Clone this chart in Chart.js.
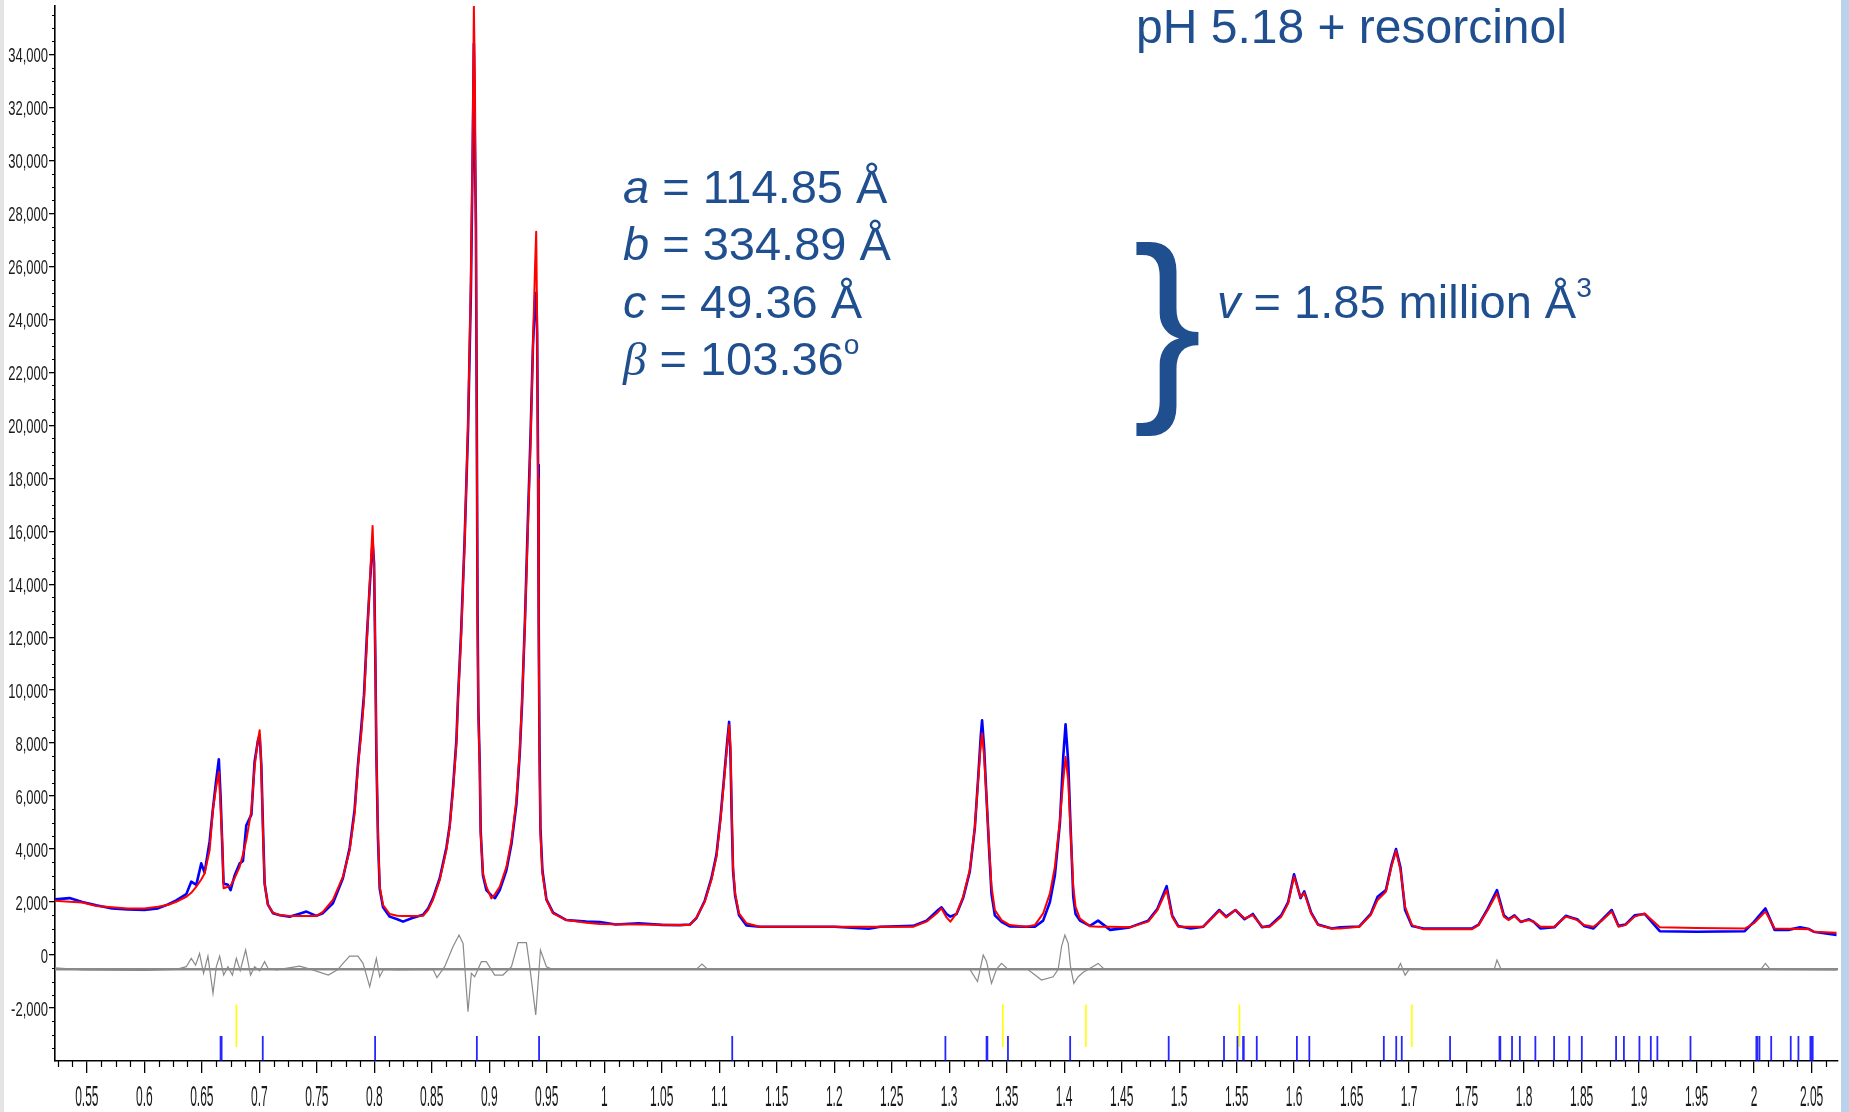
<!DOCTYPE html>
<html>
<head>
<meta charset="utf-8">
<script src="https://cdn.jsdelivr.net/npm/chart.js@4.4.1/dist/chart.umd.min.js"></script>
<style>
  body { margin: 0; background: #fff; }
  #wrap { position: relative; width: 1849px; height: 1112px; overflow: hidden; }
  #chart { display: block; }
  .note { position: absolute; color: #1f4f8f; font-family: "Liberation Sans", Arial, sans-serif; font-size: 47px; line-height: 1; white-space: nowrap; }
  .note sup { font-size: 0.6em; vertical-align: 0.75em; line-height: 0; }
  .greek { font-family: "Liberation Serif", "DejaVu Serif", serif; font-style: italic; }
  .brace { position: absolute; color: #1f4f8f; font-family: "Liberation Sans", Arial, sans-serif; font-size: 207px; line-height: 1; }
  .edge-left { position: absolute; left: 0; top: 0; width: 4px; height: 1112px; background: #e4e4e4; }
  .edge-right { position: absolute; right: 0; top: 0; width: 8px; height: 1112px; background: #bcd2ea; }
</style>
</head>
<body>
<div id="wrap">
  <canvas id="chart" width="1849" height="1112"></canvas>
  <div class="edge-left"></div>
  <div class="edge-right"></div>
  <div class="note" style="left:1136px; top:3px; font-size:48px;">pH 5.18 + resorcinol</div>
  <div class="note" style="left:623px; top:163px;"><i>a</i> = 114.85 Å</div>
  <div class="note" style="left:623px; top:220px;"><i>b</i> = 334.89 Å</div>
  <div class="note" style="left:623px; top:278px;"><i>c</i> = 49.36 Å</div>
  <div class="note" style="left:623px; top:335px;"><span class="greek">β</span> = 103.36<sup>o</sup></div>
  <div class="brace" style="left:1133px; top:218px;">}</div>
  <div class="note" style="left:1217px; top:278px;"><i>v</i> = 1.85 million Å<sup>3</sup></div>
</div>
<script>
// axis ranges
var xMin = 0.5223, xMax = 2.073;
var yMin = -4000, yMax = 35826;

var xTickLabels = ['0.55', '0.6', '0.65', '0.7', '0.75', '0.8', '0.85', '0.9', '0.95', '1',
  '1.05', '1.1', '1.15', '1.2', '1.25', '1.3', '1.35', '1.4', '1.45', '1.5',
  '1.55', '1.6', '1.65', '1.7', '1.75', '1.8', '1.85', '1.9', '1.95', '2', '2.05'];
var yTickLabels = ['-2,000', '0', '2,000', '4,000', '6,000', '8,000', '10,000', '12,000', '14,000', '16,000',
  '18,000', '20,000', '22,000', '24,000', '26,000', '28,000', '30,000', '32,000', '34,000'];

// pattern: position, calculated (red), observed (blue)
var dSpacing = [
  0.5223, 0.5350, 0.5460, 0.5582, 0.5720, 0.5857, 0.6000, 0.6118, 0.6210, 0.6278,
  0.6365, 0.6408, 0.6452, 0.6495, 0.6524, 0.6568, 0.6596, 0.6625, 0.6648, 0.6663,
  0.6678, 0.6689, 0.6727, 0.6750, 0.6785, 0.6829, 0.6858, 0.6887, 0.6931, 0.6959,
  0.6988, 0.7003, 0.7017, 0.7032, 0.7046, 0.7075, 0.7118, 0.7180, 0.7263, 0.7350,
  0.7410, 0.7495, 0.7553, 0.7640, 0.7727, 0.7786, 0.7829, 0.7858, 0.7887, 0.7910,
  0.7935, 0.7960, 0.7985, 0.7998, 0.8010, 0.8018, 0.8032, 0.8047, 0.8076, 0.8134,
  0.8200, 0.8250, 0.8330, 0.8424, 0.8467, 0.8510, 0.8569, 0.8627, 0.8656, 0.8685,
  0.8714, 0.8728, 0.8755, 0.8785, 0.8815, 0.8840, 0.8855, 0.8866, 0.8875, 0.8884,
  0.8892, 0.8898, 0.8905, 0.8917, 0.8925, 0.8945, 0.8975, 0.9018, 0.9050, 0.9091,
  0.9149, 0.9193, 0.9236, 0.9265, 0.9285, 0.9310, 0.9335, 0.9360, 0.9380, 0.9398,
  0.9408, 0.9416, 0.9424, 0.9430, 0.9437, 0.9445, 0.9462, 0.9497, 0.9555, 0.9671,
  0.9845, 0.9961, 1.0100, 1.0300, 1.0500, 1.0657, 1.0744, 1.0802, 1.0874, 1.0932,
  1.0976, 1.1011, 1.1042, 1.1068, 1.1086, 1.1098, 1.1109, 1.1120, 1.1138, 1.1172,
  1.1237, 1.1353, 1.1500, 1.2000, 1.2300, 1.2400, 1.2686, 1.2803, 1.2890, 1.2933,
  1.2977, 1.3010, 1.3064, 1.3121, 1.3179, 1.3223, 1.3252, 1.3275, 1.3286, 1.3304,
  1.3324, 1.3347, 1.3368, 1.3397, 1.3455, 1.3527, 1.3673, 1.3745, 1.3817, 1.3876,
  1.3919, 1.3963, 1.3992, 1.4012, 1.4035, 1.4055, 1.4079, 1.4099, 1.4137, 1.4224,
  1.4295, 1.4400, 1.4570, 1.4731, 1.4811, 1.4891, 1.4939, 1.4991, 1.5100, 1.5210,
  1.5349, 1.5409, 1.5489, 1.5569, 1.5641, 1.5721, 1.5788, 1.5888, 1.5948, 1.5999,
  1.6056, 1.6088, 1.6148, 1.6208, 1.6327, 1.6400, 1.6567, 1.6666, 1.6726, 1.6798,
  1.6846, 1.6886, 1.6925, 1.6965, 1.7025, 1.7125, 1.7544, 1.7604, 1.7684, 1.7764,
  1.7824, 1.7864, 1.7916, 1.7971, 1.8043, 1.8083, 1.8143, 1.8263, 1.8362, 1.8422,
  1.8462, 1.8522, 1.8602, 1.8682, 1.8762, 1.8821, 1.8881, 1.8961, 1.9049, 1.9180,
  1.9500, 1.9919, 1.9999, 2.0099, 2.0179, 2.0300, 2.0400, 2.0478, 2.0518, 2.0717
];
var yCalc = [
  2050, 2010, 1980, 1850, 1800, 1760, 1760, 1820, 1900, 2010,
  2200, 2350, 2580, 2850, 3080, 3960, 5470, 6350, 6920, 5600,
  4220, 2520, 2580, 2620, 2900, 3330, 3800, 4340, 5470, 7110,
  8110, 8490, 7110, 4590, 2700, 1890, 1600, 1500, 1470, 1470,
  1470, 1470, 1630, 2080, 2960, 3960, 5350, 7110, 8370, 9620,
  11800, 14000, 16200, 14500, 11000, 7740, 4590, 2580, 1890, 1550,
  1480, 1470, 1470, 1480, 1700, 2080, 2830, 3960, 4840, 6230,
  7990, 9620, 12000, 15500, 20000, 25500, 30500, 35800, 33000, 27000,
  19000, 12500, 9000, 7110, 4590, 3080, 2580, 2140, 2300, 2580,
  3330, 4340, 5850, 7740, 9620, 12500, 16000, 19500, 23000, 26000,
  27300, 24000, 18000, 12000, 7500, 4590, 3080, 2080, 1570, 1320,
  1220, 1170, 1160, 1150, 1140, 1130, 1130, 1420, 2010, 2830,
  3710, 5100, 6600, 7860, 8680, 7860, 5350, 3330, 2330, 1570,
  1200, 1070, 1070, 1070, 1070, 1070, 1070, 1260, 1570, 1760,
  1420, 1260, 1570, 2200, 3210, 4840, 6600, 8000, 8370, 7480,
  5970, 4090, 2580, 1700, 1320, 1130, 1070, 1130, 1570, 2330,
  3330, 5100, 6600, 7480, 6600, 4720, 2580, 1820, 1380, 1090,
  1070, 1070, 1045, 1260, 1700, 2450, 1450, 1070, 1070, 1070,
  1670, 1420, 1700, 1380, 1510, 1070, 1070, 1450, 1950, 2960,
  2180, 2350, 1570, 1130, 1000, 1000, 1070, 1510, 2080, 2390,
  3330, 3940, 3210, 1820, 1130, 970, 970, 1130, 1700, 2330,
  1450, 1320, 1470, 1260, 1320, 1260, 1070, 1070, 1450, 1380,
  1320, 1130, 1070, 1320, 1640, 1070, 1130, 1450, 1570, 1045,
  1020, 1000, 1200, 1640, 1000, 990, 985, 970, 880, 840
];
var yObs = [
  2100, 2150, 2000, 1880, 1760, 1720, 1700, 1760, 1920, 2060,
  2300, 2770, 2650, 3460, 3110, 4300, 5500, 6600, 7390, 6000,
  4100, 2700, 2650, 2450, 3000, 3460, 3550, 4900, 5300, 7300,
  8100, 8300, 7200, 4800, 2700, 1900, 1580, 1500, 1450, 1560,
  1640, 1480, 1580, 1950, 2900, 4050, 5500, 7200, 8600, 9800,
  12000, 13900, 15600, 14800, 10800, 7600, 4400, 2500, 1800, 1450,
  1350, 1260, 1400, 1520, 1750, 2150, 2900, 4050, 4900, 6350,
  8100, 9700, 12200, 15600, 19800, 25000, 30000, 34400, 30500, 27500,
  19500, 13000, 9300, 7200, 4700, 3000, 2450, 2250, 2150, 2450,
  3200, 4200, 5700, 7600, 9500, 12600, 16300, 19800, 23000, 24700,
  25000, 23500, 18500, 12500, 7800, 4800, 3200, 2100, 1600, 1320,
  1260, 1250, 1150, 1200, 1140, 1130, 1150, 1400, 2050, 2900,
  3800, 5200, 6700, 8000, 8800, 7500, 5100, 3200, 2250, 1500,
  1120, 1070, 1070, 1070, 990, 1070, 1100, 1300, 1650, 1800,
  1550, 1450, 1550, 2150, 3150, 4800, 6700, 8300, 8860, 7800,
  6000, 4000, 2300, 1500, 1250, 1080, 1070, 1070, 1300, 2000,
  3000, 5000, 7500, 8710, 7300, 4900, 2200, 1550, 1300, 1100,
  1300, 950, 1045, 1300, 1750, 2600, 1500, 1100, 1000, 1070,
  1700, 1450, 1700, 1350, 1550, 1050, 1100, 1500, 2000, 3050,
  2150, 2400, 1600, 1150, 1000, 1050, 1080, 1550, 2200, 2450,
  3400, 4000, 3300, 1700, 1100, 1000, 1000, 1150, 1750, 2450,
  1500, 1350, 1500, 1250, 1350, 1250, 1000, 1050, 1480, 1400,
  1350, 1100, 1000, 1350, 1700, 1100, 1150, 1500, 1550, 900,
  880, 900, 1250, 1760, 950, 950, 1050, 980, 880, 760
];

// difference curve, drawn about its offset line
var diffBaseline = -540;
var diffX = [
  0.5223, 0.5350, 0.5460, 0.6000, 0.6280, 0.6365, 0.6408, 0.6446, 0.6480, 0.6515,
  0.6553, 0.6597, 0.6626, 0.6655, 0.6690, 0.6727, 0.6766, 0.6800, 0.6834, 0.6881,
  0.6924, 0.6959, 0.7003, 0.7046, 0.7075, 0.7150, 0.7350, 0.7450, 0.7600, 0.7680,
  0.7728, 0.7786, 0.7858, 0.7902, 0.7960, 0.8018, 0.8047, 0.8080, 0.8200, 0.8510,
  0.8545, 0.8612, 0.8684, 0.8737, 0.8772, 0.8815, 0.8844, 0.8873, 0.8931, 0.8974,
  0.9047, 0.9119, 0.9193, 0.9250, 0.9323, 0.9352, 0.9404, 0.9445, 0.9497, 0.9550,
  1.0800, 1.0850, 1.0900, 1.3180, 1.3246, 1.3296, 1.3324, 1.3368, 1.3411, 1.3455,
  1.3500, 1.3680, 1.3730, 1.3803, 1.3904, 1.3948, 1.3977, 1.4006, 1.4035, 1.4055,
  1.4084, 1.4122, 1.4166, 1.4296, 1.4350, 1.6900, 1.6925, 1.6965, 1.7000, 1.7740,
  1.7764, 1.7800, 2.0060, 2.0099, 2.0140, 2.0717
];
var diffY = [
  -480, -520, -560, -580, -540, -440, -125, -380, 60, -690,
  -40, -1445, -440, -40, -755, -440, -755, -125, -590, 190,
  -755, -440, -600, -250, -500, -560, -420, -540, -755, -560,
  -315, -40, -40, -315, -1195, -125, -820, -540, -560, -540,
  -850, -440, 315, 755, 440, -2140, -690, -820, -250, -250,
  -755, -755, -440, 465, 465, -440, -2265, 190, -440, -540,
  -540, -340, -540, -540, -1000, 0, -230, -1070, -540, -315,
  -500, -540, -700, -945, -820, -540, 315, 755, 440, -440,
  -1070, -820, -650, -315, -540, -540, -315, -760, -540, -540,
  -190, -540, -540, -315, -540, -560
];

// reflection markers
var blueTicks = [0.6663, 0.6672, 0.7030, 0.8007, 0.8892, 0.9433, 1.1113, 1.2967, 1.3325, 1.3332,
  1.3511, 1.4052, 1.4909, 1.5390, 1.5507, 1.5556, 1.5562, 1.5675, 1.6024, 1.6132,
  1.6780, 1.6888, 1.6936, 1.7356, 1.7786, 1.7793, 1.7895, 1.7963, 1.8098, 1.8261,
  1.8393, 1.8502, 1.8800, 1.8868, 1.9003, 1.9102, 1.9159, 1.9447, 2.0020, 2.0028,
  2.0047, 2.0149, 2.0319, 2.0386, 2.0490, 2.0500, 2.0510];
var yellowTicks = [0.6800, 1.3466, 1.4189, 1.5525, 1.7024];
var blueTickSpan = [-4000, -3060];
var yellowTickSpan = [-1870, -3470];

var xMinorStep = 0.0125, yMinorStep = 500;

function toPoints(xs, ys) {
  return xs.map(function (v, i) { return { x: v, y: ys[i] }; });
}
function tickSegments(positions, span) {
  var pts = [];
  positions.forEach(function (p) {
    pts.push({ x: p, y: span[0] }, { x: p, y: span[1] }, { x: p, y: null });
  });
  return pts;
}

// minor ticks and condensed tick labels
var axisExtras = {
  id: 'axisExtras',
  afterDraw: function (chart) {
    var ctx = chart.ctx, area = chart.chartArea;
    var xs = chart.scales.x, ys = chart.scales.y;
    ctx.save();
    ctx.strokeStyle = '#000';
    ctx.lineWidth = 1.2;
    ctx.beginPath();
    for (var i = 0; ; i++) {
      var v = 0.525 + i * xMinorStep;
      if (v > xMax) break;
      if (Math.abs(v / 0.05 - Math.round(v / 0.05)) < 1e-6) continue;
      var px = Math.round(xs.getPixelForValue(v)) + 0.5;
      ctx.moveTo(px, area.bottom);
      ctx.lineTo(px, area.bottom + 6);
    }
    for (var j = 0; ; j++) {
      var w = -3500 + j * yMinorStep;
      if (w > yMax) break;
      if (w % 2000 === 0) continue;
      var py = Math.round(ys.getPixelForValue(w)) + 0.5;
      ctx.moveTo(area.left, py);
      ctx.lineTo(area.left - 3, py);
    }
    ctx.stroke();

    ctx.fillStyle = '#1a1a1a';
    ctx.textBaseline = 'alphabetic';
    ctx.textAlign = 'right';
    ctx.font = '21px "Liberation Sans", Arial, sans-serif';
    yTickLabels.forEach(function (lab) {
      var py = ys.getPixelForValue(Number(lab.replace(/,/g, '')));
      ctx.save();
      ctx.translate(area.left - 7, py + 7.5);
      ctx.scale(0.62, 1);
      ctx.fillText(lab, 0, 0);
      ctx.restore();
    });
    ctx.textAlign = 'center';
    ctx.font = '30px "Liberation Sans", Arial, sans-serif';
    xTickLabels.forEach(function (lab) {
      var px = xs.getPixelForValue(parseFloat(lab));
      ctx.save();
      ctx.translate(px, area.bottom + 45);
      ctx.scale(0.4, 1);
      ctx.fillText(lab, 0, 0);
      ctx.restore();
    });
    ctx.restore();
  }
};

new Chart(document.getElementById('chart'), {
  type: 'scatter',
  data: {
    datasets: [{
      label: 'Calculated',
      data: toPoints(dSpacing, yCalc),
      showLine: true,
      borderColor: '#ff0000',
      borderWidth: 2,
      borderJoinStyle: 'round',
      pointRadius: 0
    }, {
      label: 'Observed',
      data: toPoints(dSpacing, yObs),
      showLine: true,
      borderColor: '#0000ff',
      borderWidth: 2.6,
      borderJoinStyle: 'round',
      pointRadius: 0
    }, {
      label: 'Difference',
      data: toPoints(diffX, diffY),
      showLine: true,
      borderColor: '#8a8a8a',
      borderWidth: 1.2,
      pointRadius: 0
    }, {
      label: 'Difference zero',
      data: [{ x: xMin, y: diffBaseline }, { x: xMax, y: diffBaseline }],
      showLine: true,
      borderColor: '#8a8a8a',
      borderWidth: 2.5,
      pointRadius: 0
    }, {
      label: 'Reflections',
      data: tickSegments(blueTicks, blueTickSpan),
      showLine: true,
      spanGaps: false,
      borderColor: 'rgba(0,0,255,0.85)',
      borderWidth: 1.8,
      pointRadius: 0
    }, {
      label: 'Second phase',
      data: tickSegments(yellowTicks, yellowTickSpan),
      showLine: true,
      spanGaps: false,
      borderColor: '#ffff00',
      borderWidth: 1.6,
      pointRadius: 0
    }]
  },
  options: {
    responsive: false,
    animation: false,
    events: [],
    layout: { padding: { top: 6, right: 11, left: 0, bottom: 0 } },
    plugins: { legend: { display: false }, tooltip: { enabled: false } },
    scales: {
      x: {
        type: 'linear',
        min: xMin,
        max: xMax,
        afterFit: function (s) { s.height = 51; },
        afterBuildTicks: function (s) {
          s.ticks = xTickLabels.map(function (l) { return { value: parseFloat(l) }; });
        },
        ticks: { display: false },
        grid: { display: true, drawOnChartArea: false, drawTicks: true, tickLength: 12, color: '#000', lineWidth: 1.3 },
        border: { display: true, color: '#000', width: 1.6 }
      },
      y: {
        min: yMin,
        max: yMax,
        afterFit: function (s) { s.width = 55; },
        afterBuildTicks: function (s) {
          s.ticks = yTickLabels.map(function (l) { return { value: Number(l.replace(/,/g, '')) }; });
        },
        ticks: { display: false },
        grid: { display: true, drawOnChartArea: false, drawTicks: true, tickLength: 6, color: '#000', lineWidth: 1.3 },
        border: { display: true, color: '#000', width: 1.6 }
      }
    }
  },
  plugins: [axisExtras]
});
</script>
</body>
</html>
